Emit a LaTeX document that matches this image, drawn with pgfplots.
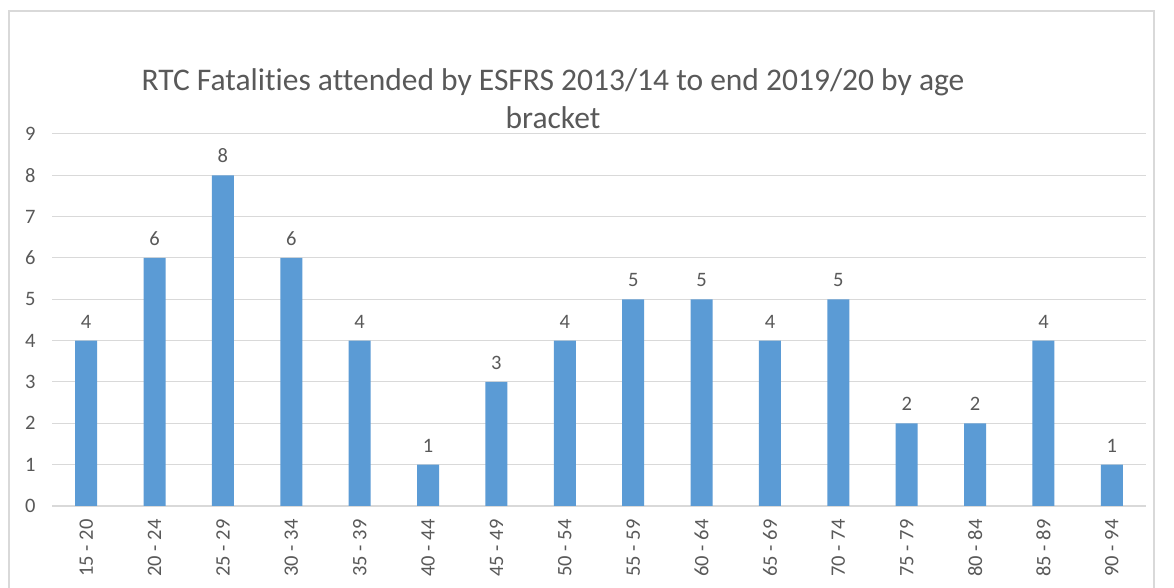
\documentclass[border=0pt]{standalone}
\usepackage{pgfplots}
\pgfplotsset{compat=1.18}
\usepackage{fontspec}
\setmainfont[Ligatures=NoCommon]{Carlito}
\definecolor{barblue}{HTML}{5B9BD5}
\definecolor{txtgray}{HTML}{595959}
\definecolor{gridgray}{HTML}{D9D9D9}
\begin{document}
\begin{tikzpicture}[x=1bp,y=1bp]
\path[use as bounding box] (0,0) rectangle (1174,588);
\fill[white] (0,0) rectangle (1174,588);
\draw[gridgray, line width=1.5bp] (9,-20) rectangle (1154,577);
\node[align=center, text=txtgray, font=\fontsize{31.5bp}{38bp}\selectfont] at (553,489) {RTC Fatalities attended by ESFRS 2013/14 to end 2019/20 by age\\bracket};
\begin{axis}[
  at={(52bp,82bp)}, anchor=south west,
  scale only axis, width=1094bp, height=372bp,
  ymin=0, ymax=9, ytick={0,...,9},
  xmin=-0.5, xmax=15.5,
  xtick={0,...,15},
  xticklabels={15 - 20,20 - 24,25 - 29,30 - 34,35 - 39,40 - 44,45 - 49,50 - 54,55 - 59,60 - 64,65 - 69,70 - 74,75 - 79,80 - 84,85 - 89,90 - 94},
  x tick label style={rotate=90, anchor=east, font=\fontsize{20.5bp}{22bp}\selectfont, text=txtgray},
  y tick label style={font=\fontsize{20.5bp}{22bp}\selectfont, text=txtgray},
  /pgf/number format/assume math mode=true,
  major tick length=0pt,
  ymajorgrids, grid style={gridgray, line width=1bp},
  axis line style={draw=none},
  xticklabel shift=10bp, yticklabel shift=13bp,
  ybar, bar width=22bp,
  nodes near coords,
  every node near coord/.append style={font=\fontsize{20.5bp}{22bp}\selectfont, text=txtgray, yshift=9bp},
  clip=false,
]
\draw[gridgray, line width=1.5bp] (axis cs:-0.5,0) -- (axis cs:15.5,0);
\addplot[fill=barblue, draw=none] coordinates {
(0,4) (1,6) (2,8) (3,6) (4,4) (5,1) (6,3) (7,4) (8,5) (9,5) (10,4) (11,5) (12,2) (13,2) (14,4) (15,1)};
\end{axis}
\end{tikzpicture}
\end{document}
